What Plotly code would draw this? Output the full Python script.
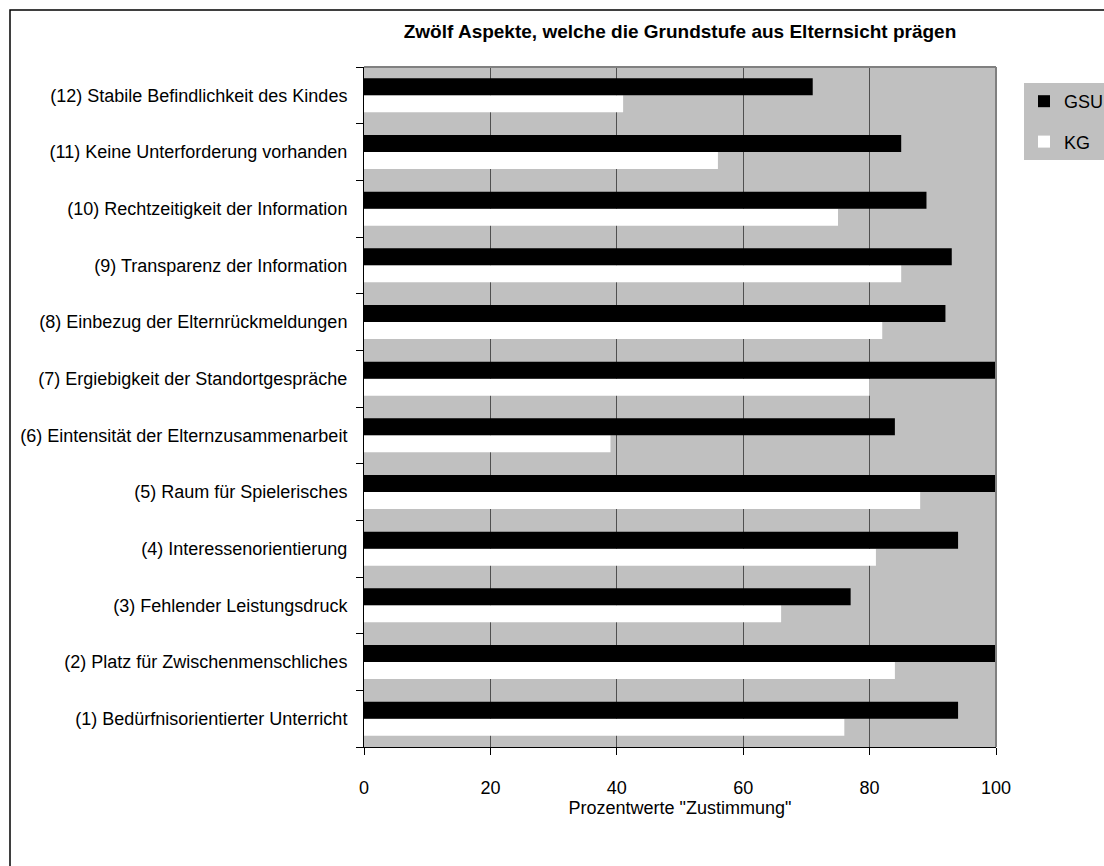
import plotly.graph_objects as go

categories = [
    "(1) Bedürfnisorientierter Unterricht",
    "(2) Platz für Zwischenmenschliches",
    "(3) Fehlender Leistungsdruck",
    "(4) Interessenorientierung",
    "(5) Raum für Spielerisches",
    "(6) Eintensität der Elternzusammenarbeit",
    "(7) Ergiebigkeit der Standortgespräche",
    "(8) Einbezug der Elternrückmeldungen",
    "(9) Transparenz der Information",
    "(10) Rechtzeitigkeit der Information",
    "(11) Keine Unterforderung vorhanden",
    "(12) Stabile Befindlichkeit des Kindes",
]
gsu = [94, 100, 77, 94, 100, 84, 100, 92, 93, 89, 85, 71]
kg = [76, 84, 66, 81, 88, 39, 80, 82, 85, 75, 56, 41]
x_ticks = [0, 20, 40, 60, 80, 100]

W, H = 1104, 866
L, R, T, B = 364, 108, 67, 119
pw, ph = W - L - R, H - T - B

def px(x):
    return (x - L) / pw

def py(y):
    return (H - B - y) / ph

fig = go.Figure()
fig.add_trace(go.Bar(y=categories, x=kg, name="KG", orientation="h", legendgroup="kg",
                     marker=dict(color="white", line=dict(width=0)), legendrank=2))
fig.add_trace(go.Bar(y=categories, x=gsu, name="GSU", orientation="h", legendgroup="gsu",
                     marker=dict(color="black", line=dict(width=0)), legendrank=1))

font = "Liberation Sans, Arial, sans-serif"

fig.update_layout(
    width=W, height=H,
    margin=dict(l=L, r=R, t=T, b=B, autoexpand=False),
    paper_bgcolor="white",
    plot_bgcolor="#C0C0C0",
    barmode="group",
    bargap=0.4,
    bargroupgap=0,
    font=dict(family=font, size=18, color="black"),
    title=dict(text="<b>Zwölf Aspekte, welche die Grundstufe aus Elternsicht prägen</b>",
               x=0.5, xref="paper", xanchor="center", y=1 - 31 / H, yanchor="middle",
               font=dict(family=font, size=19, color="black")),
    legend=dict(x=px(1024), y=py(83), xanchor="left", yanchor="top",
                bgcolor="#C0C0C0", borderwidth=0,
                font=dict(family=font, size=18, color="black"),
                itemwidth=30, tracegroupgap=14),
    showlegend=True,
)

fig.update_xaxes(
    range=[0, 100], tickvals=x_ticks, ticktext=[str(v) for v in x_ticks],
    showgrid=True, gridcolor="#505050", gridwidth=1,
    ticks="outside", ticklen=7, tickcolor="black", tickwidth=1,
    showline=True, linecolor="black", linewidth=1,
    ticklabelstandoff=17,
    zeroline=False,
    title=dict(text='Prozentwerte "Zustimmung"', standoff=1,
               font=dict(family=font, size=18, color="black")),
    tickfont=dict(family=font, size=18, color="black"),
    fixedrange=True,
)
fig.update_yaxes(
    type="category", categoryorder="array", categoryarray=categories,
    tickson="boundaries", ticks="outside", ticklen=7, tickcolor="black",
    showline=True, linecolor="black", linewidth=1,
    showgrid=False, ticklabelstandoff=12,
    tickfont=dict(family=font, size=18, color="black"),
    fixedrange=True,
)

# plot area border (top and right) in gray
fig.add_shape(type="line", xref="paper", yref="paper", x0=0, x1=1, y0=1, y1=1,
              line=dict(color="#808080", width=2))
fig.add_shape(type="line", xref="paper", yref="paper", x0=1, x1=1, y0=0, y1=1,
              line=dict(color="#808080", width=2))
# outer chart frame
fig.add_shape(type="rect", xref="paper", yref="paper",
              x0=px(10), x1=px(1120), y0=py(880), y1=py(10),
              line=dict(color="black", width=1.5), fillcolor="rgba(0,0,0,0)", layer="below")

fig.write_html("out.html")
